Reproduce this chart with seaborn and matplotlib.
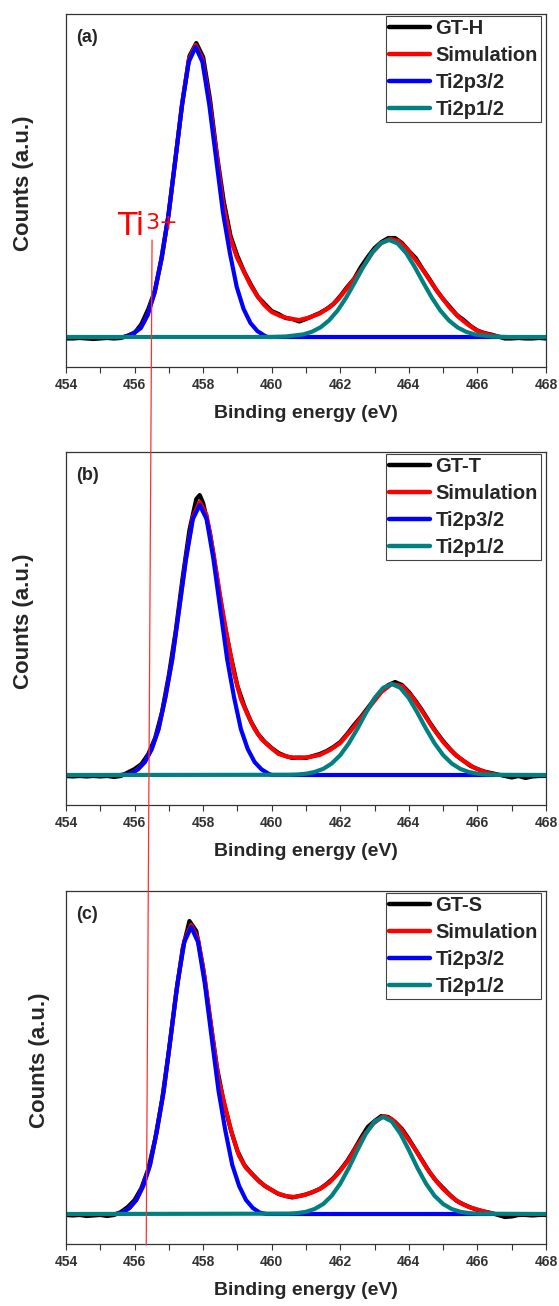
import matplotlib

matplotlib.use("Agg")

import matplotlib.pyplot as plt
import seaborn as sns
from matplotlib.patches import ConnectionPatch
from matplotlib.ticker import MultipleLocator

# ---- data (counts in arbitrary units, baseline = 0) ----
samples = ["GT-H", "GT-T", "GT-S"]
tags = ["(a)", "(b)", "(c)"]
series_labels = ["Simulation", "Ti2p3/2", "Ti2p1/2"]
x_ticks = [454, 456, 458, 460, 462, 464, 466, 468]

# panel (a) GT-H
gth_x = [454.0, 454.2, 454.4, 454.6, 454.8, 455.0, 455.2, 455.4, 455.6, 455.8, 456.0, 456.2, 456.4, 456.6,
         456.8, 457.0, 457.2, 457.4, 457.6, 457.8, 458.0, 458.2, 458.4, 458.6, 458.8, 459.0, 459.2, 459.4,
         459.6, 459.8, 460.0, 460.2, 460.4, 460.6, 460.8, 461.0, 461.2, 461.4, 461.6, 461.8, 462.0, 462.2,
         462.4, 462.6, 462.8, 463.0, 463.2, 463.4, 463.6, 463.8, 464.0, 464.2, 464.4, 464.6, 464.8, 465.0,
         465.2, 465.4, 465.6, 465.8, 466.0, 466.2, 466.4, 466.6, 466.8, 467.0, 467.2, 467.4, 467.6, 467.8, 468.0]
gth_y = [-1.5, -1.5, -1, -1.5, -2, -1.5, -1, -1.5, -1, 1, 4, 13, 28, 47,
         80, 124, 180, 236, 281, 294, 280, 238, 183, 136, 101, 81, 65, 52,
         40, 33, 26, 23, 19, 18, 15.5, 18, 21, 24, 28, 33, 41, 50,
         58, 70, 80, 89, 95, 99, 99, 94, 86, 79, 68, 58, 47, 38,
         30, 22, 17, 11, 6.5, 4, 2.5, 0.5, -1.5, -1.5, -1, -1.5, -1.5, -1, -1.5]
sim_a_x = [455.68, 455.78, 455.98, 456.18, 456.38, 456.58, 456.78, 456.98, 457.18, 457.38, 457.58, 457.78,
           457.98, 458.18, 458.38, 458.58, 458.78, 458.98, 459.18, 459.38, 459.58, 459.78, 460.0, 460.25,
           460.5, 460.8, 461.1, 461.4, 461.7, 461.95, 462.2, 462.45, 462.7, 462.95, 463.2, 463.45, 463.7,
           463.95, 464.2, 464.45, 464.7, 464.95, 465.2, 465.45, 465.7, 465.95, 466.2, 466.45, 466.66]
sim_a_y = [0, 1, 4, 9, 22, 44, 78, 120, 175, 232, 277, 292,
           278, 237, 186, 134, 100, 80, 66, 52, 41, 32, 25, 21,
           18.5, 17, 19.5, 23.5, 30, 38, 49, 60, 72, 85, 94, 98, 96,
           88, 77, 65, 52, 40, 29, 20, 13, 7, 3.5, 1.5, 0]
p32_a_x = [455.68, 455.78, 455.98, 456.18, 456.38, 456.58, 456.78, 456.98, 457.18, 457.38, 457.58, 457.78,
           457.98, 458.18, 458.38, 458.58, 458.78, 458.98, 459.18, 459.38, 459.58, 459.78, 459.88, 466.66]
p32_a_y = [0, 1, 4, 9, 22, 44, 78, 120, 175, 231, 275, 290,
           275, 232, 178, 124, 84, 50, 28, 14, 6, 1.5, 0, 0]
p12_a_x = [454.0, 460.0, 460.42, 460.92, 461.17, 461.42, 461.67, 461.92, 462.17, 462.42, 462.67, 462.92,
           463.17, 463.42, 463.67, 463.92, 464.17, 464.42, 464.67, 464.92, 465.17, 465.42, 465.67, 465.92,
           466.42, 466.9, 468.0]
p12_a_y = [0, 0, 0.5, 2.6, 5.2, 9.6, 16.5, 26.4, 39.3, 54.4, 70.1, 84,
           93.6, 97, 93.6, 84, 70.1, 54.4, 39.3, 26.4, 16.5, 9.6, 5.2, 2.6,
           0.5, 0, 0]

# panel (b) GT-T
gtt_x = [454.0, 454.2, 454.4, 454.6, 454.8, 455.0, 455.2, 455.4, 455.6, 455.8, 456.0, 456.2, 456.4, 456.6,
         456.8, 457.0, 457.2, 457.4, 457.6, 457.8, 457.9, 458.0, 458.2, 458.4, 458.6, 458.8, 459.0, 459.2,
         459.4, 459.6, 459.8, 460.0, 460.2, 460.4, 460.6, 460.8, 461.0, 461.2, 461.4, 461.6, 461.8, 462.0,
         462.2, 462.4, 462.6, 462.8, 463.0, 463.2, 463.4, 463.6, 463.8, 464.0, 464.2, 464.4, 464.6, 464.8,
         465.0, 465.2, 465.4, 465.6, 465.8, 466.0, 466.2, 466.4, 466.6, 466.8, 467.0, 467.2, 467.4, 467.6,
         467.8, 468.0]
gtt_y = [-1, -1.5, -1, -1.5, -1, -1.5, -1, -2, -1, 2.5, 6, 11, 21, 37,
         63, 100, 144, 197, 245, 276, 280, 272, 242, 198, 155, 120, 89, 69,
         53, 41, 33, 27, 22, 19, 17, 17.5, 17, 19, 21, 24, 28, 33,
         41, 50, 58, 67, 76, 84, 90, 93, 90, 83, 74, 64, 53, 43,
         34, 26, 19, 14, 9, 6, 3.5, 2, 0.5, -1, -2.5, -1, -3, -1.5,
         -1, -1]
sim_b_x = [455.6, 455.9, 456.1, 456.3, 456.5, 456.7, 456.9, 457.1, 457.3, 457.5, 457.7, 457.9, 458.1, 458.3,
           458.5, 458.7, 458.9, 459.1, 459.3, 459.5, 459.7, 459.95, 460.2, 460.5, 460.8, 461.1, 461.4, 461.7,
           462.0, 462.3, 462.6, 462.9, 463.2, 463.5, 463.8, 464.1, 464.4, 464.7, 465.0, 465.3, 465.6, 465.9,
           466.2, 466.45, 466.6]
sim_b_y = [0, 1.5, 6, 13, 26, 46, 78, 116, 166, 217, 258, 273, 260, 222,
           178, 138, 102, 76, 60, 46, 36, 28, 21, 18, 17, 18, 20, 25,
           32, 44, 57, 70, 83, 91, 89, 78, 63, 47, 33, 22, 14, 7.5,
           3, 1, 0]
p32_b_x = [455.6, 455.9, 456.1, 456.3, 456.5, 456.7, 456.9, 457.1, 457.3, 457.5, 457.7, 457.9, 458.1, 458.3,
           458.5, 458.7, 458.9, 459.1, 459.3, 459.5, 459.7, 459.9, 460.0, 466.5]
p32_b_y = [0, 1.4, 5.7, 13, 26, 46, 78, 116, 166, 216, 256, 270, 256, 216,
           166, 116, 78, 46, 26, 13, 5.7, 1.4, 0, 0]
p12_b_x = [454.0, 460.5, 460.75, 461.0, 461.25, 461.5, 461.75, 462.0, 462.25, 462.5, 462.75, 463.0, 463.25,
           463.5, 463.75, 464.0, 464.25, 464.5, 464.75, 465.0, 465.25, 465.5, 465.75, 466.0, 466.25, 466.5,
           468.0]
p12_b_y = [0, 0.2, 0.5, 1.3, 3.0, 6.1, 11.5, 19.9, 31.7, 46.3, 62.2, 76.9, 87.2,
           91, 87.2, 76.9, 62.2, 46.3, 31.7, 19.9, 11.5, 6.1, 3.0, 1.3, 0.5, 0.2,
           0]

# panel (c) GT-S
gts_x = [454.0, 454.2, 454.4, 454.6, 454.8, 455.0, 455.2, 455.4, 455.6, 455.8, 456.0, 456.2, 456.4, 456.6,
         456.8, 457.0, 457.2, 457.4, 457.6, 457.8, 458.0, 458.2, 458.4, 458.6, 458.8, 459.0, 459.2, 459.4,
         459.6, 459.8, 460.0, 460.2, 460.4, 460.6, 460.8, 461.0, 461.2, 461.4, 461.6, 461.8, 462.0, 462.2,
         462.4, 462.6, 462.8, 463.0, 463.2, 463.4, 463.6, 463.8, 464.0, 464.2, 464.4, 464.6, 464.8, 465.0,
         465.2, 465.4, 465.6, 465.8, 466.0, 466.2, 466.4, 466.6, 466.8, 467.0, 467.2, 467.4, 467.6, 467.8, 468.0]
gts_y = [-1, -1.5, -1, -2, -1.5, -1, -2, -1, 2, 7, 14, 26, 45, 75,
         114, 163, 218, 265, 293, 283, 246, 196, 147, 112, 85, 63, 49, 41,
         34, 28, 24, 20, 18, 16.5, 18, 19.5, 22, 25, 30, 36, 44, 53,
         64, 76, 87, 93, 98, 97, 92, 85, 75, 64, 53, 42, 33, 26,
         19, 13, 9.5, 6.5, 4, 2.5, 1, -1, -3, -2.5, -1, -1, -1.5, -1, -1]
sim_c_x = [455.45, 455.65, 455.85, 456.05, 456.25, 456.45, 456.65, 456.85, 457.05, 457.25, 457.45, 457.65,
           457.85, 458.05, 458.25, 458.45, 458.65, 458.85, 459.05, 459.25, 459.45, 459.65, 459.9, 460.15,
           460.4, 460.65, 460.9, 461.2, 461.45, 461.7, 461.95, 462.2, 462.45, 462.7, 462.95, 463.25, 463.5,
           463.75, 464.0, 464.25, 464.5, 464.75, 465.0, 465.25, 465.5, 465.75, 466.0, 466.25, 466.5]
sim_c_y = [0, 1.4, 6, 14, 28, 49, 83, 123, 176, 230, 273, 289,
           275, 235, 183, 135, 106, 79, 58, 46, 39, 32, 26, 21,
           18, 17, 18.5, 22, 26, 32, 41, 52, 66, 79, 90, 98, 95,
           86, 74, 61, 47, 35, 25, 17, 11, 7, 4.5, 2, 0]
p32_c_x = [455.45, 455.65, 455.85, 456.05, 456.25, 456.45, 456.65, 456.85, 457.05, 457.25, 457.45, 457.65,
           457.85, 458.05, 458.25, 458.45, 458.65, 458.85, 459.05, 459.25, 459.45, 459.65, 459.85, 466.5]
p32_c_y = [0, 1.4, 6, 14, 28, 49, 83, 123, 176, 230, 272, 287,
           272, 230, 176, 123, 83, 49, 28, 14, 6, 1.4, 0, 0]
p12_c_x = [454.0, 460.5, 460.75, 461.0, 461.25, 461.5, 461.75, 462.0, 462.25, 462.5, 462.75, 463.0, 463.25,
           463.5, 463.75, 464.0, 464.25, 464.5, 464.75, 465.0, 465.25, 465.5, 465.75, 466.0, 468.0]
p12_c_y = [0, 0.35, 0.9, 2.2, 5.0, 9.95, 18.2, 30.4, 46.1, 63.9, 80.5, 92.6, 97,
           92.6, 80.5, 63.9, 46.1, 30.4, 18.2, 9.95, 5.0, 2.2, 0.9, 0.35, 0]

# Ti3+ guide line: (energy, counts) on panel (a) down to panel (c)
ti3_top = (456.51, 97)
ti3_bottom = (456.34, -31)
ti3_text_pos = (455.5, 102)

panels = [
    (gth_x, gth_y, sim_a_x, sim_a_y, p32_a_x, p32_a_y, p12_a_x, p12_a_y),
    (gtt_x, gtt_y, sim_b_x, sim_b_y, p32_b_x, p32_b_y, p12_b_x, p12_b_y),
    (gts_x, gts_y, sim_c_x, sim_c_y, p32_c_x, p32_c_y, p12_c_x, p12_c_y),
]

colors = ["black", "#ff0000", "#0000ff", "#008080"]

sns.set_theme(style="ticks")
plt.rcParams["font.family"] = ["Liberation Sans", "DejaVu Sans"]

fig = plt.figure(figsize=(5.59, 13.06), dpi=100)
W, H = 559, 1306
ax_tops = [14, 452, 891]
ylabel_x = [-0.066, -0.066, -0.034]
axes = []

for i, (bx, by, sx, sy, ax3, ay3, ax1, ay1) in enumerate(panels):
    top = ax_tops[i]
    ax = fig.add_axes([66 / W, (H - top - 353) / H, 480 / W, 353 / H])
    axes.append(ax)
    series = [(bx, by, samples[i]), (sx, sy, series_labels[0]), (ax3, ay3, series_labels[1]), (ax1, ay1, series_labels[2])]
    for (xs, ys, lab), col in zip(series, colors):
        sns.lineplot(x=xs, y=ys, ax=ax, color=col, linewidth=3.0, sort=False, estimator=None, label=lab)

    ax.set_xlim(454, 468)
    ax.set_ylim(-30, 323)
    ax.set_yticks([])
    ax.set_xticks(x_ticks)
    ax.xaxis.set_minor_locator(MultipleLocator(1))
    ax.tick_params(axis="x", which="both", direction="out", length=4, width=0.8, color="#333333",
                   labelsize=10, pad=4, labelcolor="#333333", top=False, bottom=True)
    for lab in ax.get_xticklabels():
        lab.set_fontweight("bold")
    for sp in ax.spines.values():
        sp.set_color("#333333")
        sp.set_linewidth(0.9)
        sp.set_visible(True)

    ax.set_xlabel("Binding energy (eV)", fontsize=14, fontweight="bold", labelpad=9)
    ax.set_ylabel("Counts (a.u.)", fontsize=16, fontweight="bold")
    ax.yaxis.set_label_coords(ylabel_x[i], 0.52)

    ax.text(0.021, 0.957, tags[i], transform=ax.transAxes, fontsize=13, fontweight="bold", va="top", ha="left")

    leg = ax.legend(loc="upper right", bbox_to_anchor=(1 - 5 / 480, 1 - 2 / 353), borderaxespad=0,
                    frameon=True, fancybox=False, edgecolor="#444444", framealpha=1,
                    prop={"weight": "bold", "size": 14.5}, handlelength=2.0, handletextpad=0.3,
                    labelspacing=0.4, borderpad=0.15)
    leg.get_frame().set_linewidth(0.8)
    for h in leg.get_lines():
        h.set_linewidth(3.2)

ti_txt = axes[0].text(ti3_text_pos[0], ti3_text_pos[1], "Ti", color="red", fontsize=23,
                      family=["DejaVu Sans"], ha="left", va="baseline")
axes[0].annotate("3+", xy=(1.0, 0.93), xycoords=ti_txt, color="red", fontsize=16,
                 family=["DejaVu Sans"], ha="left", va="top")
con = ConnectionPatch(xyA=ti3_top, coordsA=axes[0].transData, xyB=ti3_bottom, coordsB=axes[2].transData,
                      color="#ff3030", linewidth=0.9)
fig.add_artist(con)

fig.savefig("out.png", dpi=100)
